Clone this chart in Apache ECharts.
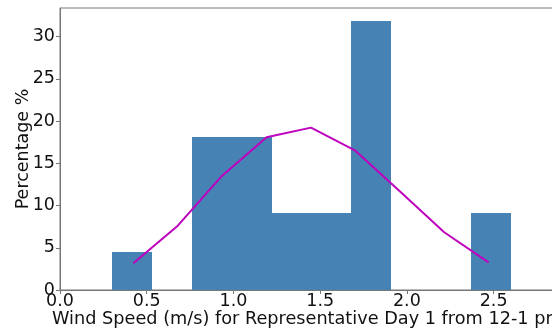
<!DOCTYPE html>
<html>
<head>
<meta charset="utf-8">
<script src="https://cdn.jsdelivr.net/npm/echarts@6/dist/echarts.min.js"></script>
<style>
html,body{margin:0;padding:0;background:#fff;}
#chart{width:552px;height:335px;}
</style>
</head>
<body>
<div id="chart"></div>
<script>
// Histogram bin edges (m/s) and percentages per bin
var binEdges = [0.30, 0.53, 0.76, 0.99, 1.22, 1.45, 1.68, 1.91, 2.14, 2.37, 2.60];
var binPercent = [4.55, 0, 18.18, 18.18, 9.09, 9.09, 31.82, 0, 0, 9.09];
// Smoothed density curve
var curveX = [0.423, 0.679, 0.935, 1.191, 1.447, 1.703, 1.959, 2.215, 2.471];
var curveY = [3.16, 7.62, 13.54, 18.09, 19.23, 16.5, 11.7, 6.84, 3.28];
var xTicks = [0.0, 0.5, 1.0, 1.5, 2.0, 2.5];
var yTicks = [0, 5, 10, 15, 20, 25, 30];
var xTitle = 'Wind Speed (m/s) for Representative Day 1 from 12-1 pm';
var yTitle = 'Percentage %';

var FONT = 'DejaVu Sans';
var FS = 17.5;
var barData = [];
for (var i = 0; i < binPercent.length; i++) {
  if (binPercent[i] > 0) barData.push([binEdges[i], binEdges[i + 1], binPercent[i]]);
}
var lineData = curveX.map(function (x, i) { return [x, curveY[i]]; });

var chart = echarts.init(document.getElementById('chart'), null, {renderer: 'canvas'});
chart.setOption({
  animation: false,
  backgroundColor: '#fff',
  grid: {left: 60, top: 8, width: 503, height: 282, containLabel: false, outerBoundsMode: 'none',
         show: true, borderColor: '#777', borderWidth: 1, backgroundColor: 'transparent'},
  graphic: [{
    type: 'text', left: 52, top: 310, silent: true,
    style: {text: xTitle, fill: '#111', font: '17.7px "DejaVu Sans"'}
  }],
  xAxis: {
    type: 'value', min: 0, max: 2.9, interval: 0.5,
    axisLine: {show: true, lineStyle: {color: '#777', width: 1}},
    axisTick: {show: true, length: 4, lineStyle: {color: '#777'}},
    splitLine: {show: false},
    axisLabel: {
      color: '#111', fontFamily: FONT, fontSize: FS, margin: 2, showMaxLabel: false,
      formatter: function (v) { return xTicks.indexOf(Math.round(v * 10) / 10) >= 0 ? v.toFixed(1) : ''; }
    }
  },
  yAxis: {
    type: 'value', min: 0, max: 33.4, interval: 5,
    axisLine: {show: true, lineStyle: {color: '#777', width: 1}},
    axisTick: {show: true, length: 4, lineStyle: {color: '#777'}},
    splitLine: {show: false},
    axisLabel: {
      color: '#111', fontFamily: FONT, fontSize: FS, margin: 5, showMaxLabel: false,
      formatter: function (v) { return yTicks.indexOf(v) >= 0 ? String(v) : ''; }
    },
    name: yTitle, nameLocation: 'middle', nameGap: 28, nameMoveOverlap: false,
    nameTextStyle: {color: '#111', fontFamily: FONT, fontSize: FS}
  },
  series: [
    {
      type: 'custom',
      data: barData,
      encode: {x: [0, 1], y: 2},
      renderItem: function (params, api) {
        var p0 = api.coord([api.value(0), api.value(2)]);
        var p1 = api.coord([api.value(1), 0]);
        var x0 = Math.round(p0[0]), x1 = Math.round(p1[0]);
        var y0 = Math.round(p0[1]), y1 = Math.round(p1[1]);
        return {
          type: 'rect',
          shape: {x: x0, y: y0, width: x1 - x0, height: y1 - y0},
          style: {fill: '#4682B4'}
        };
      },
      z: 2
    },
    {
      type: 'line',
      data: lineData,
      showSymbol: false,
      lineStyle: {color: '#BF00BF', width: 2},
      z: 3
    }
  ]
});
</script>
</body>
</html>
